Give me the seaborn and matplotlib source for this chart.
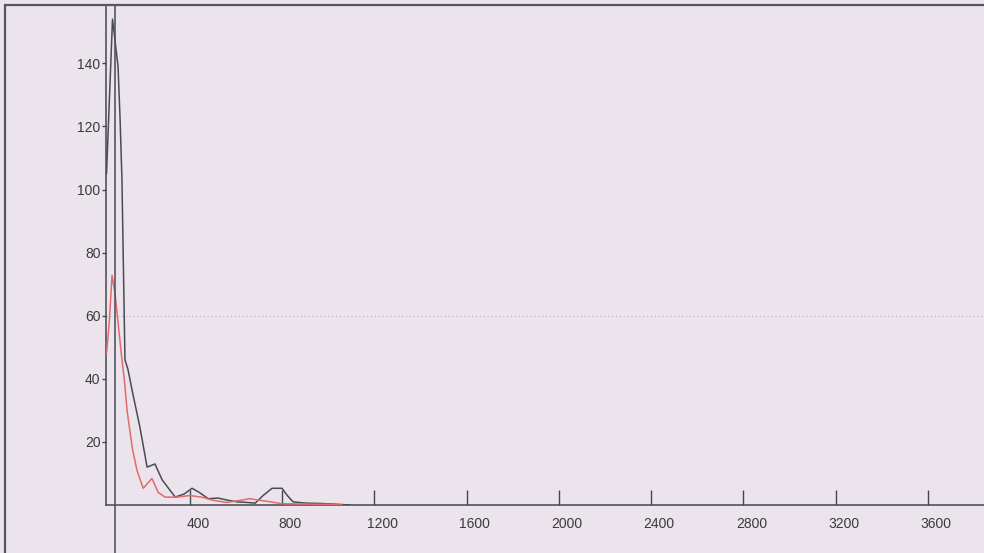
import matplotlib
matplotlib.use("Agg")
import matplotlib.pyplot as plt
from matplotlib.lines import Line2D
from matplotlib.transforms import ScaledTranslation
import seaborn as sns
import pandas as pd

# ---- data ----
black_x = [38, 64, 88, 97, 105, 118, 131, 150, 183, 214, 248, 279, 310, 336, 375,
           409, 440, 479, 522, 565, 604, 650, 683, 717, 756, 799, 822, 847, 900,
           960, 1020, 1095]
black_y = [105, 154, 139, 122, 103, 46, 43, 36, 24.6, 12, 13, 8, 5, 2.5, 3.5,
           5.3, 4, 2, 2.2, 1.5, 1, 0.8, 0.6, 3, 5.3, 5.3, 3, 1, 0.6,
           0.5, 0.3, 0]
red_x = [38, 50, 62, 75, 105, 115, 127, 150, 170, 197, 235, 262, 292, 344, 400,
         450, 500, 560, 620, 660, 700, 750, 800, 900, 1000, 1060]
red_y = [48, 58, 72.8, 67, 46, 40, 30, 18, 11, 5.3, 8.4, 4, 2.5, 2.5, 3,
         2.5, 1.5, 0.8, 1.5, 2, 1.5, 1, 0.4, 0.3, 0.2, 0]

xticks = [400, 800, 1200, 1600, 2000, 2400, 2800, 3200, 3600]
yticks = [20, 40, 60, 80, 100, 120, 140]
cursor_x = 75
grid_y = 60

bg = "#ece4ec"
dark = "#4a4a55"
red = "#e46a6a"
txt = "#3a3a3a"

sns.set_theme(style="white")
plt.rcParams["font.family"] = ["Liberation Sans", "DejaVu Sans"]

W, H = 984, 553
fig = plt.figure(figsize=(W / 100, H / 100), dpi=100, facecolor=bg)

# axes in pixel coordinates
left_px, right_px, bottom_px, top_px = 106, 984, 505, 5
ax = fig.add_axes([left_px / W, (H - bottom_px) / H,
                   (right_px - left_px) / W, (bottom_px - top_px) / H])
ax.set_facecolor(bg)

# data scale: x=0 at px 97.75, 0.2306 px/unit ; y=0 at px 505, 3.155 px/unit
xpx = 0.2306
x0px = 97.75
ax.set_xlim((left_px - x0px) / xpx, (right_px - x0px) / xpx)
ax.set_ylim(0, (bottom_px - top_px) / 3.155)

df_b = pd.DataFrame({"x": black_x, "y": black_y})
df_r = pd.DataFrame({"x": red_x, "y": red_y})
sns.lineplot(data=df_b, x="x", y="y", ax=ax, color=dark, linewidth=1.1,
             sort=False, estimator=None, zorder=3)
sns.lineplot(data=df_r, x="x", y="y", ax=ax, color=red, linewidth=1.1,
             sort=False, estimator=None, zorder=4)

ax.axhline(grid_y, color="#9a9aa8", linewidth=0.8, linestyle=(0, (1, 2.5)),
           zorder=1, alpha=0.7)
ax.axvline(cursor_x, ymin=-0.1, ymax=1, color="#55555f", linewidth=1.2,
           clip_on=False, zorder=5)

ax.set_xticks(xticks)
ax.set_xticklabels([str(v) for v in xticks])
ax.set_yticks(yticks)
ax.set_yticklabels([str(v) for v in yticks])
ax.tick_params(axis="x", which="major", bottom=True, direction="in", length=10.8,
               width=1.0, color="#45454f", pad=9, labelsize=10, labelcolor=txt)
ax.tick_params(axis="y", which="major", left=True, direction="out", length=3,
               width=1.0, color="#45454f", pad=1, labelsize=10, labelcolor=txt)
for lab in ax.get_xticklabels():
    lab.set_transform(lab.get_transform() + ScaledTranslation(8 / 100, 0, fig.dpi_scale_trans))

for s in ["top", "right"]:
    ax.spines[s].set_visible(False)
for s in ["left", "bottom"]:
    ax.spines[s].set_color("#45454f")
    ax.spines[s].set_linewidth(1.1)
ax.set_xlabel("")
ax.set_ylabel("")
ax.grid(False)

# outer frame (left and top borders)
fig.add_artist(Line2D([5 / W, 5 / W], [0, (H - 5) / H], color="#55555f", linewidth=1.6))
fig.add_artist(Line2D([5 / W, 1.0], [(H - 5) / H, (H - 5) / H], color="#55555f", linewidth=1.6))

fig.savefig("out.png", dpi=100, facecolor=bg)
